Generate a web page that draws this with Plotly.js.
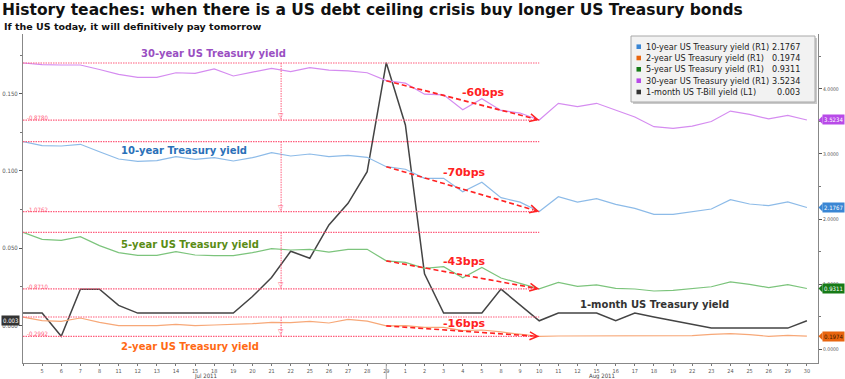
<!DOCTYPE html>
<html>
<head>
<meta charset="utf-8">
<script src="https://cdn.plot.ly/plotly-3.0.1.min.js"></script>
<style>html,body{margin:0;padding:0;background:#fff;}#chart{width:845px;height:379px;}</style>
</head>
<body>
<div id="chart"></div>
<script>
// ---------- DATA ----------
const dates = [
  '2011-07-01','2011-07-05','2011-07-06','2011-07-07','2011-07-08','2011-07-11','2011-07-12','2011-07-13','2011-07-14','2011-07-15',
  '2011-07-18','2011-07-19','2011-07-20','2011-07-21','2011-07-22','2011-07-25','2011-07-26','2011-07-27','2011-07-28','2011-07-29',
  '2011-08-01','2011-08-02','2011-08-03','2011-08-04','2011-08-05','2011-08-08','2011-08-09','2011-08-10','2011-08-11','2011-08-12',
  '2011-08-15','2011-08-16','2011-08-17','2011-08-18','2011-08-19','2011-08-22','2011-08-23','2011-08-24','2011-08-25','2011-08-26',
  '2011-08-29','2011-08-30'
];
const dayLabels = ['','5','6','7','8','11','12','13','14','15','18','19','20','21','22','25','26','27','28','29',
  '1','2','3','4','5','8','9','10','11','12','15','16','17','18','19','22','23','24','25','26','29','30'];
const monthLabels = ['Jul 2011','Aug 2011'];

const tbill1m = [0.008,0.008,-0.007,0.0235,0.0235,0.013,0.008,0.008,0.008,0.008,0.008,0.008,0.0187,0.031,0.048,0.0435,0.065,0.079,0.0995,0.170,
  0.1297,0.0334,0.008,0.008,0.008,0.0235,0.013,0.003,0.008,0.008,0.008,0.003,0.008,0.0054,0.003,0.0006,-0.0017,-0.0017,-0.0017,-0.0017,-0.0017,0.003];
const t30 = [4.40,4.374,4.369,4.369,4.30,4.226,4.18,4.18,4.25,4.24,4.31,4.20,4.26,4.318,4.266,4.33,4.29,4.28,4.25,4.128,
  4.09,3.92,3.91,3.68,3.85,3.67,3.63,3.522,3.78,3.73,3.78,3.68,3.57,3.42,3.395,3.43,3.50,3.66,3.61,3.54,3.595,3.5234];
const t10 = [3.19,3.128,3.123,3.149,3.035,2.923,2.887,2.897,2.959,2.918,2.943,2.892,2.943,3.02,2.969,3.00,2.959,2.98,2.949,2.805,
  2.765,2.626,2.626,2.42,2.565,2.328,2.26,2.114,2.343,2.26,2.312,2.226,2.164,2.072,2.072,2.112,2.154,2.297,2.231,2.205,2.262,2.1767];
const t5 = [1.795,1.687,1.672,1.728,1.59,1.482,1.441,1.441,1.497,1.446,1.436,1.436,1.482,1.544,1.523,1.533,1.49,1.533,1.533,1.356,
  1.333,1.241,1.267,1.097,1.256,1.092,1.01,0.924,1.026,0.964,0.985,0.933,0.923,0.892,0.903,0.933,0.958,1.031,0.995,0.944,0.99,0.9311];
const t2 = [0.492,0.436,0.426,0.477,0.41,0.359,0.359,0.359,0.38,0.359,0.369,0.374,0.389,0.41,0.405,0.426,0.40,0.457,0.43,0.355,
  0.359,0.333,0.333,0.282,0.292,0.262,0.231,0.193,0.20,0.20,0.205,0.195,0.20,0.195,0.195,0.205,0.226,0.236,0.22,0.195,0.21,0.1974];

const legendNames = ['10-year US Treasury yield (R1)','2-year US Treasury yield (R1)','5-year US Treasury yield (R1)','30-year US Treasury yield (R1)','1-month US T-Bill yield (L1)'];
const legendValues = ['2.1767','0.1974','0.9311','3.5234','0.003'];
const seriesLabels = ['30-year US Treasury yield','10-year Treasury yield','5-year US Treasury yield','2-year US Treasury yield','1-month US Treasury yield'];
const diffLabels = ['-0.8780','-1.0762','-0.8710','-0.2992'];
const bpsLabels = ['-60bps','-70bps','-43bps','-16bps'];

// ---------- LAYOUT HELPERS ----------
const L = 23, T = 34, W = 795, H = 329;
const px = x => (x - L) / W;
const py = y => (T + H - y) / H;
const xi = dates.map((d, i) => i);
const iStart = 0, iPeak = dates.indexOf('2011-07-29'), iEnd = dates.indexOf('2011-08-10');
const iMid = 13.5;

const FONT = 'DejaVu Sans, Verdana, sans-serif';
const FONTC = 'DejaVu Sans Condensed, DejaVu Sans, sans-serif';
const PINK = '#ff5c7c';
const RED = '#ff2222';

const colLine = {t10:'#8dbbe8', t2:'#f7a878', t5:'#7cc47c', t30:'#d58cf0', tb:'#444444'};
const colText = {t30:'#9a4fc2', t10:'#2a70b8', t5:'#5a8c14', t2:'#ff6a14', tb:'#333333'};
const colTag  = {t10:'#3a86d4', t2:'#e8650f', t5:'#167a16', t30:'#b84ae8', tb:'#333333'};

const traces = [
  {x: xi, y: t30, yaxis:'y2', mode:'lines', line:{color:colLine.t30, width:1.2}, name: legendNames[3]},
  {x: xi, y: t10, yaxis:'y2', mode:'lines', line:{color:colLine.t10, width:1.2}, name: legendNames[0]},
  {x: xi, y: t5,  yaxis:'y2', mode:'lines', line:{color:colLine.t5,  width:1.2}, name: legendNames[2]},
  {x: xi, y: t2,  yaxis:'y2', mode:'lines', line:{color:colLine.t2,  width:1.2}, name: legendNames[1]},
  {x: xi, y: tbill1m, yaxis:'y', mode:'lines', line:{color:colLine.tb, width:1.5}, name: legendNames[4]}
];

const shapes = [];
const annotations = [];
const txt = (x, y, text, font, extra) => Object.assign({xref:'paper', yref:'paper', x:px(x), y:py(y), text:text,
  showarrow:false, xanchor:'center', yanchor:'middle', font:font}, extra || {});

// reference lines, arrows for each treasury series
const tSeries = [t30, t10, t5, t2];
const bpsPos = [[483.7, 92.7],[464,172.3],[464,261],[464,323.7]];
tSeries.forEach((s, k) => {
  const top = s[iStart], bot = s[iEnd];
  [top, bot].forEach(v => shapes.push({type:'line', xref:'x', yref:'y2', x0:iStart, x1:iEnd, y0:v, y1:v,
    line:{color:PINK, width:1.2, dash:'1.5px,1px'}, layer:'above'}));
  shapes.push({type:'line', xref:'x', yref:'y2', x0:iMid, x1:iMid, y0:top, y1:bot,
    line:{color:PINK, width:1, dash:'1.5px,1px'}, layer:'above'});
  annotations.push({xref:'x', yref:'y2', x:iMid, y:bot, text:'▽', showarrow:false, xanchor:'center', yanchor:'bottom', yshift:-2,
    font:{family:FONT, size:7, color:PINK}});
  annotations.push({xref:'x', yref:'y2', x:0.1, y:bot, text:diffLabels[k], showarrow:false, xanchor:'left', yanchor:'bottom', yshift:-3,
    font:{family:FONTC, size:6, color:PINK}});
  // dashed arrow from peak day to end
  shapes.push({type:'line', xref:'x', yref:'y2', x0:iPeak, x1:iEnd - 0.3, y0:s[iPeak], y1:s[iPeak] + (bot - s[iPeak]) * ((iEnd - 0.3 - iPeak) / (iEnd - iPeak)),
    line:{color:RED, width:1.6, dash:'5px,3px'}, layer:'above'});
  annotations.push({xref:'x', yref:'y2', x:iEnd, y:bot, axref:'x', ayref:'y2', ax:iEnd - 0.35,
    ay: s[iPeak] + (bot - s[iPeak]) * ((iEnd - 0.35 - iPeak) / (iEnd - iPeak)),
    text:'', showarrow:true, arrowhead:5, arrowsize:1.1, arrowwidth:1.4, arrowcolor:RED, standoff:0});
  annotations.push(txt(bpsPos[k][0], bpsPos[k][1], '<b>' + bpsLabels[k] + '</b>', {family:FONT, size:11, color:RED}));
});

// series name labels
const lblPos = [[213,53],[184.3,150.3],[190,244],[190,346.7],[654.7,304.7]];
const lblCol = [colText.t30, colText.t10, colText.t5, colText.t2, colText.tb];
seriesLabels.forEach((t, k) => annotations.push(txt(lblPos[k][0], lblPos[k][1], '<b>' + t + '</b>', {family:FONT, size:10, color:lblCol[k]})));

// month labels & separator
annotations.push(txt(205, 375.5, monthLabels[0], {family:FONTC, size:6, color:'#444'}));
annotations.push(txt(602, 375.5, monthLabels[1], {family:FONTC, size:6, color:'#444'}));
shapes.push({type:'line', xref:'x', yref:'paper', x0:iPeak, x1:iPeak, y0:py(379), y1:0, line:{color:'#aaaaaa', width:1}});

// subtitle
annotations.push(txt(2, 26, '<b>If the US today, it will definitively pay tomorrow</b>', {family:FONT, size:9.5, color:'#111'}, {xanchor:'left'}));

// last value tags
const tagSeries = [[t30,colTag.t30,'#fff'],[t10,colTag.t10,'#fff'],[t5,colTag.t5,'#fff'],[t2,colTag.t2,'#3a1800']];
tagSeries.forEach(([s, c, fc]) => {
  const v = s[s.length - 1];
  annotations.push({xref:'paper', yref:'y2', x:px(822), y:v, xanchor:'left', yanchor:'middle', text:v.toFixed(4), showarrow:false,
    bgcolor:c, borderpad:1, font:{family:FONTC, size:6, color:fc}});
  const hh = 4 / (H / (4.846 + 0.2154));
  shapes.push({type:'path', xref:'paper', yref:'y2', path:`M ${px(818.5)},${v} L ${px(822.5)},${v+hh} L ${px(822.5)},${v-hh} Z`,
    fillcolor:c, line:{width:0}});
});
const tbLast = tbill1m[tbill1m.length - 1];
annotations.push({xref:'paper', yref:'y', x:px(20), y:tbLast, xanchor:'right', yanchor:'middle', text:String(tbLast), showarrow:false,
  bgcolor:'#333', borderpad:1, font:{family:FONTC, size:6, color:'#fff'}});

// custom legend
shapes.push({type:'rect', xref:'paper', yref:'paper', x0:px(633), x1:px(817), y0:py(104), y1:py(38), fillcolor:'#c9c9c9', line:{width:0}, layer:'above'});
shapes.push({type:'rect', xref:'paper', yref:'paper', x0:px(631), x1:px(815), y0:py(102), y1:py(36), fillcolor:'#f2f2f2', line:{color:'#a8a8a8', width:1}, layer:'above'});
const lgCols = [colTag.t10, colTag.t2, colTag.t5, colTag.t30, colTag.tb];
const rowY = [46.7, 58, 69.3, 80.7, 92];
legendNames.forEach((n, k) => {
  shapes.push({type:'rect', xref:'paper', yref:'paper', x0:px(636.5), x1:px(641), y0:py(rowY[k] + 2.3), y1:py(rowY[k] - 2.3),
    fillcolor:lgCols[k], line:{width:0}, layer:'above'});
  annotations.push(txt(643.5, rowY[k], n, {family:FONTC, size:9, color:'#222'}, {xanchor:'left'}));
  annotations.push(txt(802, rowY[k], legendValues[k], {family:FONTC, size:9, color:'#222'}, {xanchor:'right'}));
});

const layout = {
  width: 845, height: 379,
  margin: {l: L, r: 845 - L - W, t: T, b: 379 - T - H, pad: 0},
  paper_bgcolor: '#ffffff', plot_bgcolor: '#ffffff',
  showlegend: false,
  title: {text: '<b>History teaches: when there is a US debt ceiling crisis buy longer US Treasury bonds</b>',
    xref: 'container', yref: 'container', x: 2/845, xanchor: 'left', y: 1 - 10/379, yanchor: 'middle',
    font: {family: FONT, size: 15.5, color: '#111'}},
  xaxis: {type: 'linear', range: [0, 41.58], tickmode: 'array', tickvals: xi, ticktext: dayLabels,
    ticks: 'outside', ticklen: 2, tickcolor: '#777', tickfont: {family: FONTC, size: 5.5, color: '#555'},
    showline: true, linecolor: '#888', linewidth: 1, showgrid: false, zeroline: false, automargin: false, fixedrange: true},
  yaxis: {range: [-0.0243, 0.1886], tickmode: 'array', tickvals: [0, 0.05, 0.1, 0.15], ticktext: ['0.000','0.050','0.100','0.150'],
    ticks: 'outside', ticklen: 3, tickcolor: '#555', tickfont: {family: FONTC, size: 6, color: '#555'},
    minor: {tickmode: 'array', tickvals: [0.025, 0.075, 0.125, 0.175], ticks: 'outside', ticklen: 2, tickcolor: '#777'},
    showline: true, linecolor: '#888', linewidth: 1, showgrid: false, zeroline: false, automargin: false, fixedrange: true},
  yaxis2: {overlaying: 'y', side: 'right', range: [-0.2154, 4.846], tickmode: 'array', tickvals: [0, 1, 2, 3, 4],
    ticktext: ['0.0000','1.0000','2.0000','3.0000','4.0000'],
    ticks: 'outside', ticklen: 3, tickcolor: '#555', tickfont: {family: FONTC, size: 5, color: '#555'},
    minor: {tickmode: 'array', tickvals: [0.5, 1.5, 2.5, 3.5, 4.5], ticks: 'outside', ticklen: 2, tickcolor: '#777'},
    showline: true, linecolor: '#888', linewidth: 1, showgrid: false, zeroline: false, automargin: false, fixedrange: true},
  shapes: shapes,
  annotations: annotations
};

Plotly.newPlot('chart', traces, layout, {staticPlot: true, displayModeBar: false});
</script>
</body>
</html>
